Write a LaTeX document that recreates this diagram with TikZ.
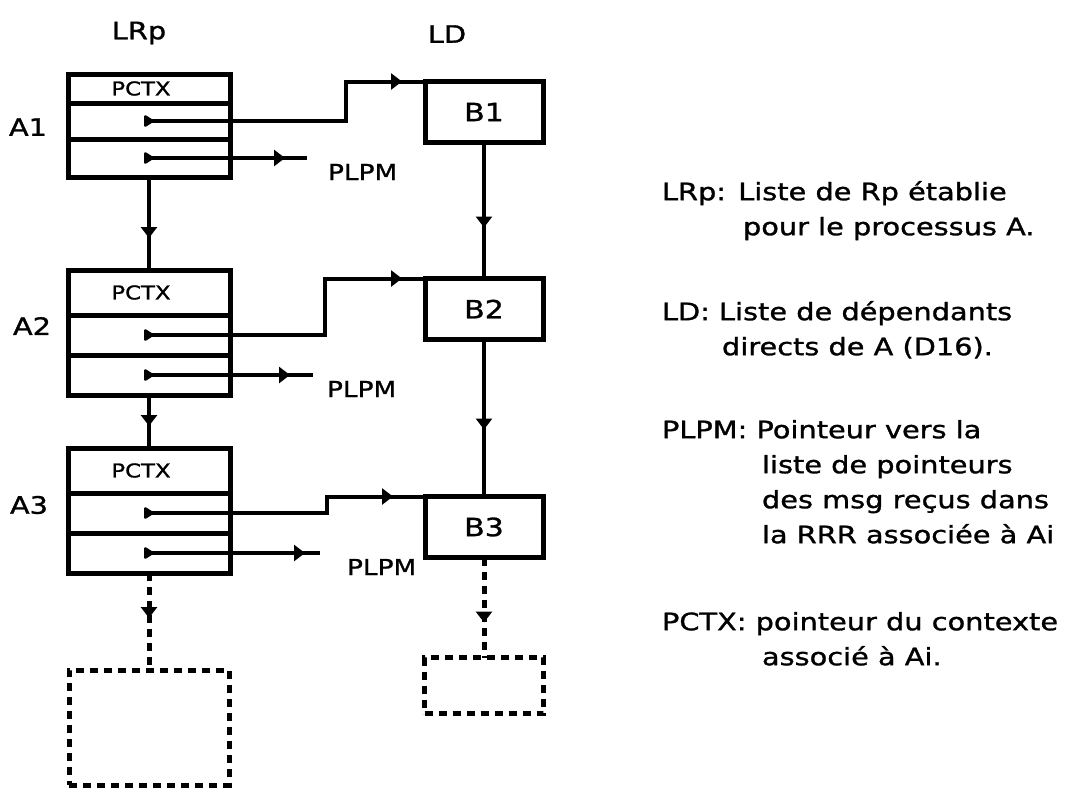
\documentclass[tikz,border=0pt]{standalone}
\usepackage{fontspec}
\setmainfont{DejaVu Sans}[FakeStretch=1.2, FakeBold=1.2]
\usetikzlibrary{positioning, arrows.meta, decorations.markings}

\begin{document}
\begin{tikzpicture}[
        x=1pt, y=-1pt,
        every node/.style={inner sep=0pt, outer sep=0pt, font=\fontsize{24}{35}\selectfont},
        cell/.style={draw, line width=5pt, minimum width=162pt},
        ctxcell/.style={cell, font=\fontsize{19}{19}\selectfont},
        depbox/.style={draw, line width=5pt, minimum width=118pt, minimum height=61pt, font=\fontsize{25}{25}\selectfont},
        ghost/.style={draw, line width=5pt, dash pattern=on 8pt off 6pt},
        tag/.style={font=\fontsize{22}{22}\selectfont, anchor=west},
        legend/.style={anchor=north west, align=left},
        link/.style={line width=4.5pt},
        ghostlink/.style={line width=5pt, dash pattern=on 8pt off 6pt},
        ptr/.style={line width=4pt, {Triangle[reversed, round, length=11pt, width=13pt]}-},
        tipat/.style={postaction={decorate, decoration={markings, mark=at position -#1 with {\arrow{Triangle[length=11pt, width=16pt]}}}}}
    ]
        \useasboundingbox (0,0) rectangle (1075,788);

        % LRp: records A1..A3
        \node[ctxcell, minimum height=29pt, anchor=north] (A1c) at (149,74) {PCTX\hspace*{16pt}};
        \node[cell, minimum height=36pt, below=0pt of A1c] (A1p) {};
        \node[cell, minimum height=38pt, below=0pt of A1p] (A1m) {};
        \node[ctxcell, minimum height=45pt, below=93pt of A1m] (A2c) {PCTX\hspace*{16pt}};
        \node[cell, minimum height=40pt, below=0pt of A2c] (A2p) {};
        \node[cell, minimum height=40pt, below=0pt of A2p] (A2m) {};
        \node[ctxcell, minimum height=45pt, below=53pt of A2m] (A3c) {PCTX\hspace*{16pt}};
        \node[cell, minimum height=40pt, below=0pt of A3c] (A3p) {};
        \node[cell, minimum height=40pt, below=0pt of A3p] (A3m) {};
        \node[ghost, minimum width=160pt, minimum height=115pt, below=97pt of A3m] (A4) {};

        % LD: dependants B1..B3
        \node[depbox] (B1) at (484,112) {B1};
        \node[depbox, below=136pt of B1] (B2) {B2};
        \node[depbox, below=157pt of B2] (B3) {B3};
        \node[ghost, minimum width=119pt, minimum height=56pt, below=100pt of B3] (B4) {};

        % titles and row names
        \node (tLRp) at (139,33) {LRp};
        \node (tLD) at (447,34) {LD};
        \node[anchor=east] (nA1) at ([xshift=-21pt, yshift=-6pt]A1p.west) {A1};
        \node[anchor=east] (nA2) at ([xshift=-17pt, yshift=9pt]A2p.west) {A2};
        \node[anchor=east] (nA3) at ([xshift=-20pt, yshift=8pt]A3p.west) {A3};

        % PLPM ends
        \coordinate[right=158pt of A1m.center] (A1end);
        \coordinate[right=164pt of A2m.center] (A2end);
        \coordinate[right=171pt of A3m.center] (A3end);
        \node[tag] (L1) at ([xshift=21pt, yshift=-14pt]A1end) {PLPM};
        \node[tag] (L2) at ([xshift=14pt, yshift=-14pt]A2end) {PLPM};
        \node[tag] (L3) at ([xshift=27pt, yshift=-14pt]A3end) {PLPM};

        % legend
        \node[legend] (kLRp) at (662,181) {LRp: Liste de Rp établie\\\hspace*{81pt}pour le processus A.};
        \node[legend] (kLD) at (662,301) {LD: Liste de dépendants\\\hspace*{60pt}directs de A (D16).};
        \node[legend] (kPLPM) at (662,420) {PLPM: Pointeur vers la\\\hspace*{100pt}liste de pointeurs\\\hspace*{100pt}des msg reçus dans\\\hspace*{100pt}la RRR associée à Ai};
        \node[legend] (kPCTX) at (662,612) {PCTX: pointeur du contexte\\\hspace*{100pt}associé à Ai.};

        % chain links
        \draw[link, tipat=32pt] (A1m) -- (A2c);
        \draw[link, tipat=22pt] (A2m) -- (A3c);
        \draw[ghostlink, tipat=52pt] (A3m) -- (A4);
        \draw[link, tipat=51pt] (B1) -- (B2);
        \draw[link, tipat=67pt] (B2) -- (B3);
        \draw[ghostlink, tipat=35pt] (B3) -- (B4);

        % pointers
        \draw[ptr, tipat=23pt] ([xshift=-5pt]A1p.center) -- ++(202,0) |- (B1.north west);
        \draw[ptr, tipat=23pt] ([xshift=-5pt]A2p.center) -- ++(181,0) |- (B2.north west);
        \draw[ptr, tipat=32pt] ([xshift=-5pt]A3p.center) -- ++(183,0) |- (B3.north west);
        \draw[ptr, tipat=22pt] ([xshift=-5pt]A1m.center) -- (A1end);
        \draw[ptr, tipat=23pt] ([xshift=-5pt]A2m.center) -- (A2end);
        \draw[ptr, tipat=15pt] ([xshift=-5pt]A3m.center) -- (A3end);
    \end{tikzpicture}
\end{document}
